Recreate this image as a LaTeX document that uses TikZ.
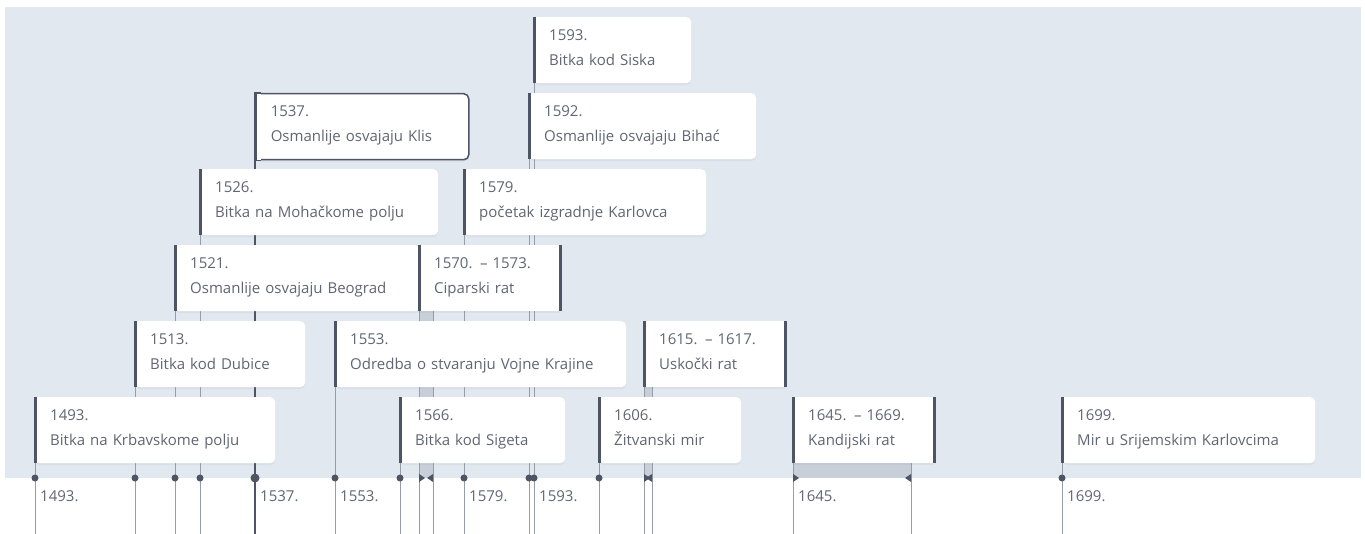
\documentclass[tikz,border=0pt]{standalone}
\usepackage{fontspec}
\setmainfont{Open Sans}
\usetikzlibrary{shadows}

\definecolor{bgcol}{RGB}{226,232,240}
\definecolor{bandcol}{RGB}{200,207,217}
\definecolor{darkcol}{RGB}{77,84,99}
\definecolor{linecol}{RGB}{150,156,168}
\definecolor{txtcol}{RGB}{96,102,114}

\pgfdeclarelayer{back}
\pgfsetlayers{back,main}

\begin{document}
\begin{tikzpicture}[x=1pt,y=-1pt,
    evt/.style={anchor=north west,fill=white,rounded corners=5pt,inner xsep=15pt,inner ysep=0pt,
      minimum height=66pt,text width=#1,align=left,text=txtcol,font=\fontsize{15}{25}\selectfont,
      execute at begin node=\rule{0pt}{11pt},execute at end node=\rule[-6pt]{0pt}{6pt},
      drop shadow={opacity=0.08,shadow xshift=0pt,shadow yshift=-2pt}},
    rng/.style={evt=#1,sharp corners},
    yr/.style={anchor=base west,inner sep=0pt,xshift=5pt,text=txtcol,font=\fontsize{15}{16}\selectfont},
    bar/.style={darkcol,line width=3pt},
    tick/.style={linecol,line width=1pt}]

	\useasboundingbox (0,0) rectangle (1365,534);
	\coordinate (axis) at (0,478);
	\coordinate (lab)  at (0,501);
	\coordinate (base) at (0,534);
	\coordinate (He) at (433,0);
	\coordinate (Me) at (652,0);
	\coordinate (Ne) at (911,0);

	% events, bottom row first
	\node[evt=210pt] (A) at (35,397)   {1493.\\Bitka na Krbavskome polju};
	\node[evt=135pt] (G) at (400,397)  {1566.\\Bitka kod Sigeta};
	\node[evt=112pt] (L) at (599,397)  {1606.\\Žitvanski mir};
	\node[rng=111pt] (N) at (793,397)  {1645. – 1669.\\Kandijski rat};
	\node[evt=223pt] (O) at (1062,397) {1699.\\Mir u Srijemskim Karlovcima};
	\node[evt=140pt] (B) at (135,321)  {1513.\\Bitka kod Dubice};
	\node[evt=261pt] (F) at (335,321)  {1553.\\Odredba o stvaranju Vojne Krajine};
	\node[rng=111pt] (M) at (644,321)  {1615. – 1617.\\Uskočki rat};
	\node[evt=215pt] (C) at (175,245)  {1521.\\Osmanlije osvajaju Beograd};
	\node[rng=111pt] (H) at (419,245)  {1570. – 1573.\\Ciparski rat};
	\node[evt=208pt] (D) at (200,169)  {1526.\\Bitka na Mohačkome polju};
	\node[evt=212pt] (I) at (464,169)  {1579.\\početak izgradnje Karlovca};
	\node[evt=183pt,draw=darkcol,line width=1.5pt] (E) at (255,93) {1537.\\Osmanlije osvajaju Klis};
	\node[evt=197pt] (J) at (529,93)   {1592.\\Osmanlije osvajaju Bihać};
	\node[evt=127pt] (K) at (534,17)   {1593.\\Bitka kod Siska};

	% square left side and bars
	\foreach \n in {A,B,C,D,F,G,I,J,K,L,O} {
		\fill[white] (\n.north west) rectangle ([xshift=6pt]\n.south west);
		\draw[bar] (\n.north west) -- (\n.south west);
	}
	\fill[white] (E.north west) rectangle ([xshift=6pt]E.south west);
	\draw[darkcol,line width=1.5pt] ([xshift=6pt]E.north west) -- (E.north west) -- (E.south west) -- ([xshift=6pt]E.south west);
	\draw[bar] (E.north west) -- (E.south west);
	\foreach \n in {H,M,N}
		\draw[bar] (\n.north west) -- (\n.south west) (\n.north east) -- (\n.south east);

	\begin{pgfonlayer}{back}
		\fill[bgcol] (5,7) rectangle (1361,478);
		\fill[bandcol] (H.south west) rectangle (He |- axis);
		\fill[bandcol] (M.south west) rectangle (Me |- axis);
		\fill[bandcol] (N.south west) rectangle (Ne |- axis);
		\foreach \n in {A,B,C,D,F,G,H,I,J,K,L,M,N,O}
			\draw[tick] (\n.south west) -- (\n.south west |- base);
		\draw[tick] (He |- H.south) -- (He |- base);
		\draw[tick] (Me |- M.south) -- (Me |- base);
		\draw[tick] (Ne |- N.south) -- (Ne |- base);
		\draw[darkcol,line width=2.5pt] (E.south west) -- (E.south west |- base);
	\end{pgfonlayer}

	% marks on the axis
	\foreach \n in {A,B,C,D,F,G,I,J,K,L,O}
		\fill[darkcol] (\n.south west |- axis) circle (3.5pt);
	\fill[darkcol] (E.south west |- axis) circle (4.5pt);
	\foreach \n in {H,M,N}
		\fill[darkcol] (\n.south west |- axis) ++(0,-4) -- ++(6,4) -- ++(-6,4) -- cycle;
	\foreach \n in {He,Me,Ne}
		\fill[darkcol] (\n |- axis) ++(0,-4) -- ++(-6,4) -- ++(6,4) -- cycle;

	% axis labels
	\node[yr] (yA) at (A.south west |- lab) {1493.};
	\node[yr] (yE) at (E.south west |- lab) {1537.};
	\node[yr] (yF) at (F.south west |- lab) {1553.};
	\node[yr] (yI) at (I.south west |- lab) {1579.};
	\node[yr] (yK) at (K.south west |- lab) {1593.};
	\node[yr] (yN) at (N.south west |- lab) {1645.};
	\node[yr] (yO) at (O.south west |- lab) {1699.};
\end{tikzpicture}
\end{document}
